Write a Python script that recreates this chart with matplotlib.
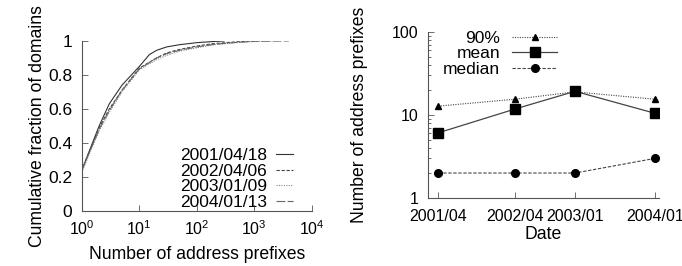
import matplotlib.pyplot as plt
import numpy as np

plt.rcParams['font.family'] = ['Liberation Sans', 'DejaVu Sans']
plt.rcParams['mathtext.fontset'] = 'custom'
plt.rcParams['mathtext.rm'] = 'Liberation Sans'
plt.rcParams['font.size'] = 12.5

# CDF data (left)
cdf_labels = ["2001/04/18", "2002/04/06", "2003/01/09", "2004/01/13"]
x_2001 = [1, 2, 3, 5, 10, 15, 20, 30, 50, 100, 200, 300]
y_2001 = [0.24, 0.50, 0.63, 0.74, 0.85, 0.92, 0.945, 0.965, 0.978, 0.99, 0.997, 1.0]
x_2002 = [1, 2, 3, 5, 10, 20, 30, 50, 100, 200, 500, 1000]
y_2002 = [0.24, 0.49, 0.60, 0.71, 0.84, 0.90, 0.93, 0.95, 0.97, 0.985, 0.995, 1.0]
x_2003 = [1, 2, 3, 5, 10, 20, 30, 50, 100, 200, 500, 1000, 2000]
y_2003 = [0.23, 0.47, 0.58, 0.70, 0.83, 0.89, 0.915, 0.94, 0.96, 0.978, 0.99, 0.997, 1.0]
x_2004 = [1, 2, 3, 5, 10, 20, 30, 50, 100, 200, 500, 1000, 4000]
y_2004 = [0.24, 0.48, 0.59, 0.71, 0.835, 0.90, 0.925, 0.945, 0.965, 0.98, 0.992, 0.998, 1.0]

# summary stats (right)
dates = [2001.29, 2002.26, 2003.02, 2004.03]
date_labels = ["2001/04", "2002/04", "2003/01", "2004/01"]
p90 = [12.8, 15.5, 19.0, 15.5]
mean = [6.1, 11.8, 19.3, 10.5]
median = [2.0, 2.0, 2.0, 3.0]

fig = plt.figure(figsize=(6.82, 2.66), dpi=100)

# ---- left plot
ax1 = fig.add_axes([0.120, 0.207, 0.337, 0.639])
styles = [("-", "#333333"), ((0, (3, 1.5)), "#444444"), ((0, (1, 1.2)), "#888888"), ((0, (8, 2)), "#666666")]
for (xs, ys), lab, (ls, c) in zip([(x_2001, y_2001), (x_2002, y_2002), (x_2003, y_2003), (x_2004, y_2004)],
                                  cdf_labels, styles):
    ax1.plot(xs, ys, linestyle=ls, color=c, lw=0.8, label=lab)
ax1.set_xscale("log")
ax1.set_xlim(1, 1e4)
ax1.set_ylim(0, 1)
ax1.set_yticks([0, 0.2, 0.4, 0.6, 0.8, 1])
ax1.set_yticklabels(["0", "0.2", "0.4", "0.6", "0.8", "1"])
ax1.set_xticks([1, 10, 100, 1000, 10000])
ax1.set_xticklabels([r"$10^0$", r"$10^1$", r"$10^2$", r"$10^3$", r"$10^4$"])
ax1.tick_params(axis="x", labelsize=11.5)
ax1.tick_params(axis="y", labelsize=12.5)
ax1.set_xlabel("Number of address prefixes", fontsize=12.7, labelpad=6)
ax1.set_ylabel("Cumulative fraction of domains", fontsize=12.7, labelpad=1.5)
ax1.legend(loc="lower right", bbox_to_anchor=(0.95, -0.035), markerfirst=False, frameon=False,
           fontsize=12.5, handlelength=1.0, handletextpad=0.5, labelspacing=0.02, borderaxespad=0)

# ---- right plot
ax2 = fig.add_axes([0.6276, 0.2556, 0.3384, 0.6241])
ax2.plot(dates, p90, linestyle=(0, (1, 1.2)), color="#444444", lw=0.8, marker="^", ms=5,
         mfc="black", mec="black", label="90%")
ax2.plot(dates, mean, linestyle="-", color="#444444", lw=0.9, marker="s", ms=6.5,
         mfc="black", mec="black", label="mean")
ax2.plot(dates, median, linestyle=(0, (3, 1.5)), color="#444444", lw=0.8, marker="o", ms=5.5,
         mfc="black", mec="black", label="median")
ax2.set_yscale("log")
ax2.set_ylim(1, 100)
ax2.set_xlim(2001.16, 2004.08)
ax2.set_yticks([1, 10, 100])
ax2.set_yticklabels(["1", "10", "100"])
ax2.set_xticks(dates)
ax2.set_xticklabels(date_labels)
ax2.tick_params(labelsize=11.5)
ax2.set_xlabel("Date", fontsize=12.7, labelpad=1)
ax2.set_ylabel("Number of address prefixes", fontsize=12.7, labelpad=17)
ax2.legend(loc="upper right", bbox_to_anchor=(0.59, 1.05), markerfirst=False, frameon=False,
           fontsize=12.5, handlelength=2.6, handletextpad=0.7, labelspacing=0.02, borderaxespad=0)

for ax in (ax1, ax2):
    ax.spines["top"].set_visible(False)
    ax.spines["right"].set_visible(False)
    for s in ("left", "bottom"):
        ax.spines[s].set_color("#555555")
        ax.spines[s].set_linewidth(0.8)
    ax.tick_params(which="both", direction="in", color="#555555", width=0.6)
    ax.tick_params(which="major", length=4)
    ax.tick_params(which="minor", length=2)
    ax.tick_params(axis="y", pad=7)
ax1.tick_params(axis="x", pad=6)
ax2.tick_params(axis="x", pad=8)

plt.savefig("out.png", dpi=100)
